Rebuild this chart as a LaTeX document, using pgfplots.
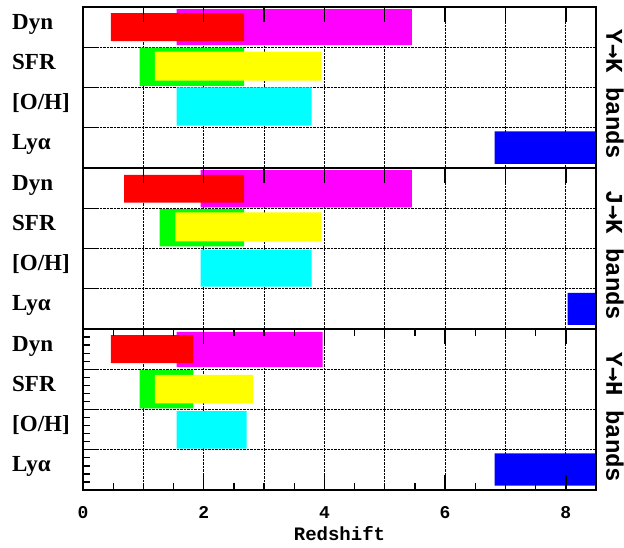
\documentclass[border=0pt]{standalone}
\usepackage{pgfplots}
\pgfplotsset{compat=1.18}
\usepackage{fontspec}
\setmainfont{Liberation Mono}
\newfontfamily\serifb{Liberation Serif}
\newfontfamily\arrowfont{DejaVu Sans Mono}
\definecolor{cRed}{RGB}{255,0,0}
\definecolor{cMag}{RGB}{255,0,255}
\definecolor{cGrn}{RGB}{0,255,0}
\definecolor{cYel}{RGB}{255,255,0}
\definecolor{cCyn}{RGB}{0,255,255}
\definecolor{cBlu}{RGB}{0,0,255}
\newcommand{\rowfont}{\fontsize{23}{23}\selectfont\serifb\bfseries}
\newcommand{\bandfont}{\fontsize{24}{24}\selectfont\bfseries}
\tikzset{rowlab/.style={anchor=base west, inner sep=0pt, font=\rowfont}}
\pgfplotsset{
  base/.style={
    scale only axis, width=513pt, height=161pt,
    xmin=0, xmax=8.5, ymin=0, ymax=4,
    axis line style={line width=1.4pt, black, solid},
    /pgf/number format/assume math mode=true,
    clip mode=individual,
    tick align=inside,
    major tick style={solid, black, line width=1.4pt},
    minor tick style={solid, black, line width=1.3pt},
  },
  gridpanel/.style={base,
    grid=major, grid style={densely dotted, black, line width=0.7pt},
    major tick length=0pt,
    xtick={0,1,...,8}, xticklabels={},
    ytick={1,2,3}, yticklabels={},
  },
  panel/.style={base, grid=none, axis on top,
    major tick length=15pt, minor tick length=15pt,
    ytick={1,2,3}, yticklabels={}, minor ytick={1,2,3},
    ytick pos=left,
  },
  bar/.style={draw=none, fill=#1, forget plot},
}
\newcommand{\rowlabels}{%
  \node[rowlab] at ([xshift=-71pt]axis cs:0,3.45) {Dyn};
  \node[rowlab] at ([xshift=-71pt]axis cs:0,2.45) {SFR};
  \node[rowlab] at ([xshift=-71pt]axis cs:0,1.45) {[O/H]};
  \node[rowlab] at ([xshift=-71pt]axis cs:0,0.45) {Lyα};
}
\begin{document}
\begin{tikzpicture}
\useasboundingbox (0pt,0pt) rectangle (624pt,-548pt);
% ---------- Panel 1: Y->K ----------
\begin{axis}[gridpanel, at={(83pt,-168pt)}, anchor=south west]
\end{axis}
\begin{axis}[panel, at={(83pt,-168pt)}, anchor=south west,
  xtick={0,1,...,8}, minor xtick={1,2,...,8}, xticklabels={}, xtick pos=right]
\addplot[bar=cMag] coordinates {(1.55,3.05) (5.45,3.05) (5.45,3.95) (1.55,3.95) (1.55,3.05)};
\addplot[bar=cRed] coordinates {(0.46,3.15) (2.67,3.15) (2.67,3.85) (0.46,3.85) (0.46,3.15)};
\addplot[bar=cGrn] coordinates {(0.94,2.04) (2.67,2.04) (2.67,2.99) (0.94,2.99) (0.94,2.04)};
\addplot[bar=cYel] coordinates {(1.19,2.17) (3.95,2.17) (3.95,2.89) (1.19,2.89) (1.19,2.17)};
\addplot[bar=cCyn] coordinates {(1.55,1.05) (3.79,1.05) (3.79,2.00) (1.55,2.00) (1.55,1.05)};
\addplot[bar=cBlu] coordinates {(6.82,0.10) (8.50,0.10) (8.50,0.91) (6.82,0.91) (6.82,0.10)};
\rowlabels
\node[rotate=-90, font=\bandfont] at ([xshift=19pt, yshift=-7pt]rel axis cs:1,0.5) {Y{\arrowfont →}K bands};
\end{axis}
% ---------- Panel 2: J->K ----------
\begin{axis}[gridpanel, at={(83pt,-329pt)}, anchor=south west]
\end{axis}
\begin{axis}[panel, at={(83pt,-329pt)}, anchor=south west,
  xtick={0,1,...,8}, minor xtick={1,2,...,8}, xticklabels={}, xtick pos=right]
\addplot[bar=cMag] coordinates {(1.95,3.02) (5.45,3.02) (5.45,3.95) (1.95,3.95) (1.95,3.02)};
\addplot[bar=cRed] coordinates {(0.68,3.14) (2.67,3.14) (2.67,3.83) (0.68,3.83) (0.68,3.14)};
\addplot[bar=cGrn] coordinates {(1.27,2.05) (2.67,2.05) (2.67,2.98) (1.27,2.98) (1.27,2.05)};
\addplot[bar=cYel] coordinates {(1.53,2.18) (3.95,2.18) (3.95,2.90) (1.53,2.90) (1.53,2.18)};
\addplot[bar=cCyn] coordinates {(1.95,1.05) (3.79,1.05) (3.79,1.97) (1.95,1.97) (1.95,1.05)};
\addplot[bar=cBlu] coordinates {(8.03,0.10) (8.50,0.10) (8.50,0.90) (8.03,0.90) (8.03,0.10)};
\rowlabels
\node[rotate=-90, font=\bandfont] at ([xshift=19pt, yshift=-7pt]rel axis cs:1,0.5) {J{\arrowfont →}K bands};
\end{axis}
% ---------- Panel 3: Y->H ----------
\begin{axis}[gridpanel, at={(83pt,-490pt)}, anchor=south west,
  minor xtick={2,4,6,8}, minor ytick={1,2,3}, minor tick length=15pt,
  xtick pos=both, ytick pos=left]
\end{axis}
\begin{axis}[panel, at={(83pt,-490pt)}, anchor=south west,
  minor tick length=7pt,
  xtick={0,2,4,6,8}, xticklabels={0,2,4,6,8},
  minor xtick={0.5,1,1.5,2.5,3,3.5,4.5,5,5.5,6.5,7,7.5},
  xtick pos=both, xticklabel pos=lower,
  minor ytick={0.2,0.4,0.6,0.8,1.2,1.4,1.6,1.8,2.2,2.4,2.6,2.8,3.2,3.4,3.6,3.8},
  xticklabel style={font=\fontsize{18}{18}\selectfont\bfseries, yshift=-13pt},
  xlabel={Redshift},
  xlabel style={font=\fontsize{19}{19}\selectfont\bfseries, yshift=-1pt}]
\addplot[bar=cMag] coordinates {(1.55,3.05) (3.97,3.05) (3.97,3.93) (1.55,3.93) (1.55,3.05)};
\addplot[bar=cRed] coordinates {(0.46,3.15) (1.83,3.15) (1.83,3.85) (0.46,3.85) (0.46,3.15)};
\addplot[bar=cGrn] coordinates {(0.94,2.03) (1.83,2.03) (1.83,2.98) (0.94,2.98) (0.94,2.03)};
\addplot[bar=cYel] coordinates {(1.19,2.15) (2.82,2.15) (2.82,2.86) (1.19,2.86) (1.19,2.15)};
\addplot[bar=cCyn] coordinates {(1.55,1.03) (2.71,1.03) (2.71,1.96) (1.55,1.96) (1.55,1.03)};
\addplot[bar=cBlu] coordinates {(6.82,0.11) (8.50,0.11) (8.50,0.91) (6.82,0.91) (6.82,0.11)};
\rowlabels
\node[rotate=-90, font=\bandfont] at ([xshift=19pt, yshift=-8pt]rel axis cs:1,0.5) {Y{\arrowfont →}H bands};
\end{axis}
\end{tikzpicture}
\end{document}
